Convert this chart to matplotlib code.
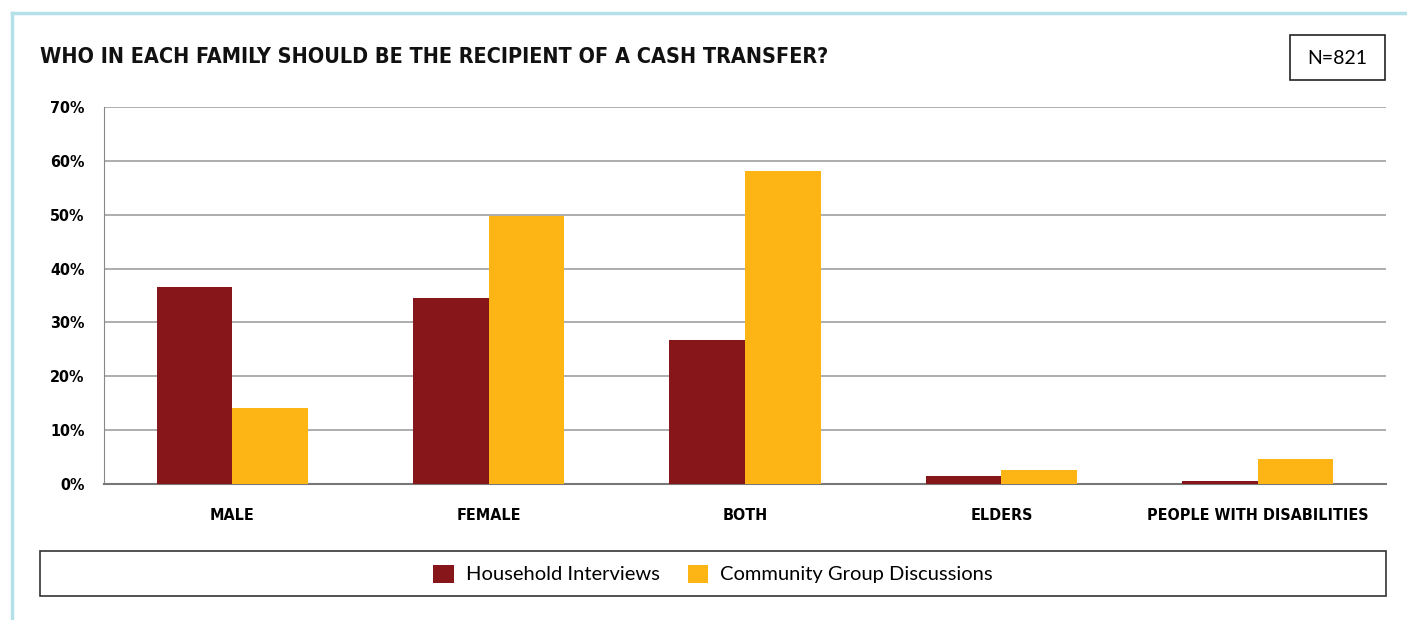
import numpy as np
import matplotlib
matplotlib.use("Agg")
import matplotlib.pyplot as plt
from matplotlib.patches import Rectangle

categories = ["MALE", "FEMALE", "BOTH", "ELDERS", "PEOPLE WITH DISABILITIES"]
household = [36.6, 34.5, 26.7, 1.5, 0.6]
community = [14.1, 49.8, 58.1, 2.6, 4.6]
yticks = [0, 10, 20, 30, 40, 50, 60, 70]

W, H = 1407, 620
fig = plt.figure(figsize=(W / 100, H / 100), dpi=100)

# plot area in pixels
left, right, top, bottom = 104, 1386, 107, 484
ax = fig.add_axes([left / W, 1 - bottom / H, (right - left) / W, (bottom - top) / H])

x = np.arange(len(categories))
bw = 0.295
ax.bar(x - bw / 2, household, bw, color="#86161A", label="Household Interviews", zorder=3)
ax.bar(x + bw / 2, community, bw, color="#FDB515", label="Community Group Discussions", zorder=3)

ax.set_xlim(-0.5, len(categories) - 0.5)
ax.set_ylim(0, 70)
ax.set_yticks(yticks)
ax.set_yticklabels([f"{t}%" for t in yticks])
ax.set_xticks(x)
ax.set_xticklabels(categories)
ax.yaxis.grid(True, color="#a0a0a0", linewidth=1.2, zorder=0)
ax.tick_params(length=0)
ax.tick_params(axis="y", pad=14)
ax.tick_params(axis="x", pad=17)
for lab in ax.get_xticklabels() + ax.get_yticklabels():
    lab.set_fontfamily("DejaVu Sans")
    lab.set_fontstretch("condensed")
    lab.set_fontweight("bold")
    lab.set_fontsize(11.5)
for s in ["top", "right"]:
    ax.spines[s].set_visible(False)
ax.spines["left"].set_color("#888888")
ax.spines["bottom"].set_color("#777777")
ax.spines["bottom"].set_linewidth(1.5)

# outer light-blue frame
fig.add_artist(plt.Line2D([12 / W, 12 / W], [0, 1 - 13 / H], color="#b4e1e8", linewidth=2.5))
fig.add_artist(plt.Line2D([12 / W, 1], [1 - 13 / H, 1 - 13 / H], color="#b4e1e8", linewidth=2.5))

# title
fig.text(40 / W, 1 - 57 / H, "WHO IN EACH FAMILY SHOULD BE THE RECIPIENT OF A CASH TRANSFER?",
         fontsize=15.5, fontweight="bold", fontstretch="condensed", family="DejaVu Sans",
         va="center", ha="left", color="#111111")

# N box
fig.add_artist(Rectangle((1290 / W, 1 - 80 / H), 95 / W, 45 / H, transform=fig.transFigure,
                         facecolor="white", edgecolor="#222222", linewidth=1.2))
fig.text(1337.5 / W, 1 - 58 / H, "N=821", fontsize=14, family="Lato", ha="center", va="center")

# legend box
fig.add_artist(Rectangle((40 / W, 1 - 596 / H), 1346 / W, 45 / H, transform=fig.transFigure,
                         facecolor="white", edgecolor="#333333", linewidth=1.2))
fig.legend(loc="center", bbox_to_anchor=(713 / W, 1 - 574 / H), ncol=2, frameon=False,
           prop={"family": "Lato", "size": 14.5}, handlelength=1.0, handleheight=1.0,
           columnspacing=1.4, handletextpad=0.6)

fig.savefig("out.png", dpi=100)
